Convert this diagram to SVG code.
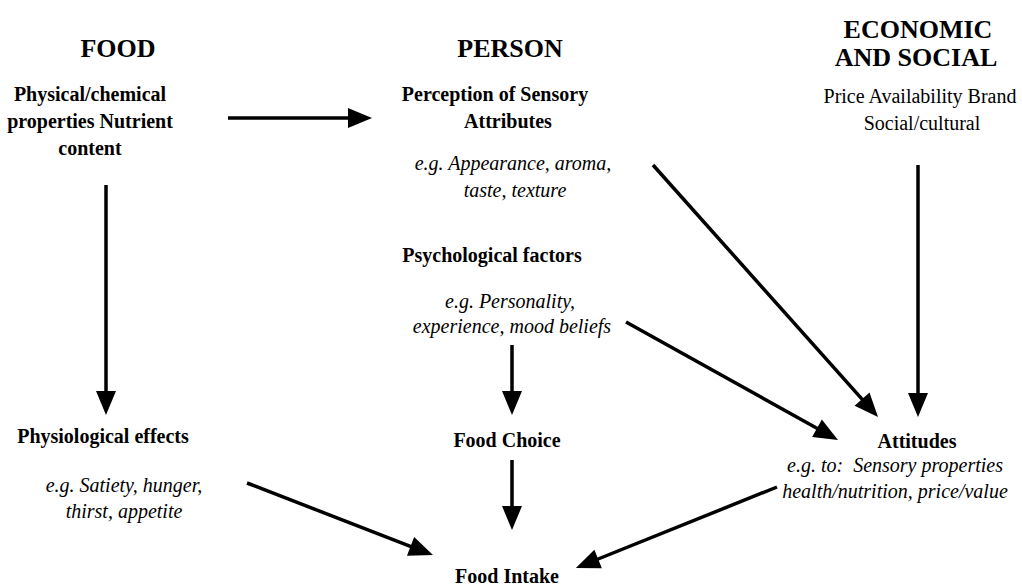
<svg xmlns="http://www.w3.org/2000/svg" width="1022" height="587" viewBox="0 0 1022 587">
<defs>
<style>
text{font-family:"Liberation Serif","Times New Roman",serif;fill:#000}
.h{font-size:26px;font-weight:bold}
.b{font-size:20px;font-weight:bold}
.r{font-size:20px}
.i{font-size:20px;font-style:italic}
.m{text-anchor:middle}
.c line{stroke:#000;stroke-width:3.5;marker-end:url(#ah)}
</style>
<marker id="ah" markerUnits="userSpaceOnUse" markerWidth="26" markerHeight="22" refX="4" refY="10" orient="auto" viewBox="0 0 26 22" overflow="visible">
<path d="M0,0 L24,10 L0,20 z" fill="#000"/>
</marker>
</defs>
<rect width="1022" height="587" fill="#fff"/>
<g id="food-title"><text class="h m" x="118" y="57">FOOD</text></g>
<g id="person-title"><text class="h m" x="510" y="57">PERSON</text></g>
<g id="econ-title"><text class="h m" x="918" y="38">ECONOMIC</text><text class="h m" x="916" y="66">AND SOCIAL</text></g>
<g id="physical"><text class="b m" x="90" y="101">Physical/chemical</text><text class="b m" x="90" y="128">properties Nutrient</text><text class="b m" x="90" y="155">content</text></g>
<g id="perception"><text class="b m" x="495" y="101">Perception of Sensory</text><text class="b m" x="508" y="128">Attributes</text><text class="i m" x="513" y="170">e.g. Appearance, aroma,</text><text class="i m" x="515" y="197">taste, texture</text></g>
<g id="economic"><text class="r m" x="920" y="103">Price Availability Brand</text><text class="r m" x="922" y="130">Social/cultural</text></g>
<g id="psych"><text class="b m" x="492" y="262">Psychological factors</text><text class="i m" x="510" y="308">e.g. Personality,</text><text class="i m" x="512" y="333">experience, mood beliefs</text></g>
<g id="physiological"><text class="b m" x="103" y="443">Physiological effects</text><text class="i m" x="124" y="492">e.g. Satiety, hunger,</text><text class="i m" x="124" y="518">thirst, appetite</text></g>
<g id="food-choice"><text class="b m" x="507" y="447">Food Choice</text></g>
<g id="attitudes"><text class="b m" x="917" y="448">Attitudes</text><text class="i m" x="895" y="472">e.g. to:&#160; Sensory properties</text><text class="i m" x="895" y="498">health/nutrition, price/value</text></g>
<g id="food-intake"><text class="b m" x="507" y="583">Food Intake</text></g>
<g id="connectors" class="c">
<line x1="228" y1="118" x2="352" y2="118"/>
<line x1="106" y1="185" x2="106" y2="395"/>
<line x1="653" y1="165" x2="864.7" y2="402.1"/>
<line x1="918" y1="165" x2="918" y2="397"/>
<line x1="626" y1="322" x2="820.5" y2="430.3"/>
<line x1="512" y1="345" x2="512" y2="395"/>
<line x1="512" y1="460" x2="512" y2="510"/>
<line x1="247" y1="483" x2="414.3" y2="547.8"/>
<line x1="777" y1="487" x2="594.4" y2="560.5"/>
</g>
</svg>
